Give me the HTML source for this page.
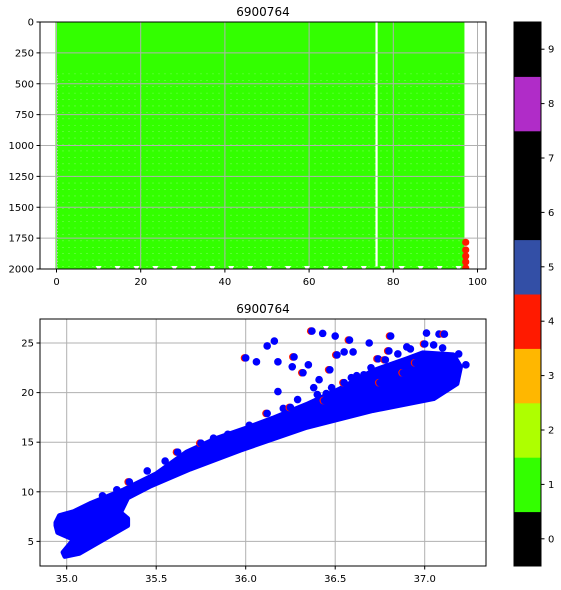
<!DOCTYPE html>
<html><head><meta charset="utf-8"><style>
html,body{margin:0;padding:0;background:#fff;}
svg{display:block;font-family:"DejaVu Sans","Liberation Sans",sans-serif;}
</style></head><body>
<svg id="fig" width="561" height="590" viewBox="0 0 561 590"></svg>
<script>
// ---- Data ----
const topTitle = "6900764";
const botTitle = "6900764";
const topXTicks = [0, 20, 40, 60, 80, 100];
const topYTicks = [0, 250, 500, 750, 1000, 1250, 1500, 1750, 2000];
const greenXStart = 0, greenXEnd = 96.9, greenGapX = 76.0;
const greenYStart = 0, greenYEnd = 2000;
const redDotX = [97.2, 97.2, 97.2, 97.2, 97.2];
const redDotY = [1784, 1846, 1895, 1943, 1992];
const botXTicks = [35.0, 35.5, 36.0, 36.5, 37.0];
const botYTicks = [5, 10, 15, 20, 25];
// main band outline (salinity, temperature)
const bandSal = [34.94,34.96,35.04,35.13,35.32,35.5,35.67,35.84,36.0,36.15,36.34,36.53,36.71,36.9,36.99,37.16,37.2,37.18,37.05,36.71,36.34,35.97,35.69,35.47,35.34,35.3,35.34,35.34,35.07,34.99,34.98,35.04,34.95,34.94];
const bandTemp = [6.9,7.6,8.0,8.8,10.2,11.8,14.0,15.4,16.4,17.4,18.8,20.4,22.2,23.4,24.0,23.8,22.6,20.9,19.4,18.2,16.5,14.2,12.3,10.6,9.4,7.9,7.3,6.6,3.8,3.5,3.9,5.2,5.9,6.6];
// scattered points
const outSal = [36.37,36.43,36.5,36.58,36.16,36.12,36.0,36.06,36.18,36.27,36.26,36.35,36.32,36.18,36.41,36.51,36.6,36.69,36.81,37.01,37.08,37.11,37.23,37.19,36.8,36.29,36.21,36.12,36.02,36.55,36.47,36.59,36.38,36.74,36.9,37.05,36.95,36.66,36.45,
  35.75,35.82,35.9,35.62,35.55,35.45,35.35,35.28,35.2,36.25,36.4,36.48,36.55,36.62,36.7,36.78,36.85,36.92,37.0,37.1,37.15,36.88,36.97,37.03,36.75,36.64,36.56,36.44];
const outTemp = [26.2,25.97,25.7,25.3,25.2,24.7,23.5,23.1,23.1,23.6,22.6,22.8,22.0,20.1,21.3,23.8,24.1,25.0,25.7,26.0,25.9,25.9,22.8,23.9,24.2,19.3,18.4,17.9,16.7,24.1,22.3,21.5,20.5,23.4,24.6,24.8,23.0,21.8,19.9,
  14.9,15.4,15.8,14.0,13.1,12.1,11.0,10.2,9.6,18.5,19.8,20.5,21.0,21.7,22.5,23.3,23.9,24.4,24.9,24.5,23.2,22.0,22.8,23.5,21.0,20.3,19.5,19.2];
const cbLabels = [0,1,2,3,4,5,6,7,8,9];
const cbColors = ["#000000","#33ff00","#aeff00","#ffb700","#ff1a00","#334fa6","#000000","#000000","#b02cc8","#000000"];

// ---- Helpers ----
const NS = "http://www.w3.org/2000/svg";
const svg = document.getElementById("fig");
function mk(tag, attrs, parent){
  const e = document.createElementNS(NS, tag);
  for (const k in attrs) e.setAttribute(k, attrs[k]);
  (parent||svg).appendChild(e);
  return e;
}
const T = {l:40, r:486, t:22, b:269};
const tx = v => 56.5 + v*4.21;
const ty = v => T.t + v*(T.b-T.t)/2000;
const B = {l:40, r:486, t:319, b:566};
const bx = v => 66.7 + (v-35)*179;
const by = v => 343 - (v-25)*9.92;

// ---- Top plot ----
const gTop = mk("g", {});


const clipT = mk("clipPath", {id:"clipT"}, gTop);
mk("rect", {x:T.l, y:T.t, width:T.r-T.l, height:T.b-T.t}, clipT);
const gT = mk("g", {"clip-path":"url(#clipT)"}, gTop);
const gfill = mk("rect", {x:tx(greenXStart)-1, y:ty(greenYStart), width:tx(greenXEnd)-tx(greenXStart)+1, height:ty(greenYEnd)-ty(greenYStart), fill:"#33ff00"}, gT);


for (let v = 420; v < 2000; v += 52) {
  mk("line", {x1:tx(0), x2:tx(greenXEnd), y1:ty(v), y2:ty(v), stroke:"#e8ffe0", "stroke-width":0.6, "stroke-dasharray":"1 5", opacity:0.7}, gT);
}
mk("rect", {x:tx(greenGapX)-1, y:ty(0), width:2.2, height:ty(1980)-ty(0), fill:"#fff"}, gT);
mk("line", {x1:tx(0)+0.5, x2:tx(0)+0.5, y1:ty(430), y2:ty(2000), stroke:"#fff", "stroke-width":1, "stroke-dasharray":"1 2"}, gT);
topXTicks.forEach(v => mk("line", {x1:tx(v), x2:tx(v), y1:T.t, y2:T.b, stroke:"#b0b0b0", "stroke-width":1}, gT));
topYTicks.forEach(v => mk("line", {x1:T.l, x2:T.r, y1:ty(v), y2:ty(v), stroke:"#b0b0b0", "stroke-width":1}, gT));
for (let v = 10; v < 96; v += 4.5) {
  mk("path", {d:`M${tx(v)-3},${T.b-3} L${tx(v)+3},${T.b-3} L${tx(v)},${T.b+2} Z`, fill:"#fff"}, gT);
}
redDotX.forEach((x,i) => {
  const c = mk("circle", {cx:tx(x), cy:ty(redDotY[i]), r:3.6, fill:"#ff1a00"}, gT);
  
  
});
mk("rect", {x:T.l, y:T.t, width:T.r-T.l, height:T.b-T.t, fill:"none", stroke:"#000", "stroke-width":1}, gTop);
topXTicks.forEach(v => {
  mk("line", {x1:tx(v), x2:tx(v), y1:T.b, y2:T.b+3.5, stroke:"#000"}, gTop);
  const t = mk("text", {x:tx(v), y:T.b+16, "font-size":10, "text-anchor":"middle", fill:"#000"}, gTop);
  t.textContent = v;
});
topYTicks.forEach(v => {
  mk("line", {x1:T.l-3.5, x2:T.l, y1:ty(v), y2:ty(v), stroke:"#000"}, gTop);
  const t = mk("text", {x:T.l-6, y:ty(v)+3.5, "font-size":10, "text-anchor":"end", fill:"#000"}, gTop);
  t.textContent = v;
});
const tt = mk("text", {x:(T.l+T.r)/2, y:T.t-6, "font-size":12, "text-anchor":"middle", fill:"#000"}, gTop);


tt.textContent = topTitle;

// ---- Bottom plot ----
const gBot = mk("g", {});


const clipB = mk("clipPath", {id:"clipB"}, gBot);
mk("rect", {x:B.l, y:B.t, width:B.r-B.l, height:B.b-B.t}, clipB);
const gB = mk("g", {"clip-path":"url(#clipB)"}, gBot);
botXTicks.forEach(v => mk("line", {x1:bx(v), x2:bx(v), y1:B.t, y2:B.b, stroke:"#b0b0b0", "stroke-width":1}, gB));
botYTicks.forEach(v => mk("line", {x1:B.l, x2:B.r, y1:by(v), y2:by(v), stroke:"#b0b0b0", "stroke-width":1}, gB));
const pts = bandSal.map((s,i) => `${bx(s).toFixed(1)},${by(bandTemp[i]).toFixed(1)}`).join(" ");
const band = mk("polygon", {points:pts, fill:"#0000ff", stroke:"#0000ff", "stroke-width":5, "stroke-linejoin":"round"}, gB);


outSal.forEach((s,i) => {
  if (i % 3 === 0) mk("circle", {cx:bx(s)-1.2, cy:by(outTemp[i]), r:3.8, fill:"#ff1a00"}, gB);
  const c = mk("circle", {cx:bx(s), cy:by(outTemp[i]), r:3.8, fill:"#0000ff"}, gB);
  
  
});
mk("rect", {x:B.l, y:B.t, width:B.r-B.l, height:B.b-B.t, fill:"none", stroke:"#000", "stroke-width":1}, gBot);
botXTicks.forEach(v => {
  mk("line", {x1:bx(v), x2:bx(v), y1:B.b, y2:B.b+3.5, stroke:"#000"}, gBot);
  const t = mk("text", {x:bx(v), y:B.b+16, "font-size":10, "text-anchor":"middle", fill:"#000"}, gBot);
  t.textContent = v.toFixed(1);
});
botYTicks.forEach(v => {
  mk("line", {x1:B.l-3.5, x2:B.l, y1:by(v), y2:by(v), stroke:"#000"}, gBot);
  const t = mk("text", {x:B.l-6, y:by(v)+3.5, "font-size":10, "text-anchor":"end", fill:"#000"}, gBot);
  t.textContent = v;
});
const bt = mk("text", {x:(B.l+B.r)/2, y:B.t-6, "font-size":12, "text-anchor":"middle", fill:"#000"}, gBot);


bt.textContent = botTitle;

// ---- Colorbar ----
const gCb = mk("g", {});


const cbT = 22, cbB = 566, cbL = 514, cbR = 541;
const h = (cbB-cbT)/cbLabels.length;
cbLabels.forEach((lab,i) => {
  const y0 = cbB - (i+1)*h;
  const r = mk("rect", {x:cbL, y:y0, width:cbR-cbL, height:h+0.5, fill:cbColors[i]}, gCb);
  
  
  const yc = y0 + h/2;
  mk("line", {x1:cbR, x2:cbR+3.5, y1:yc, y2:yc, stroke:"#000"}, gCb);
  const t = mk("text", {x:cbR+7, y:yc+3.5, "font-size":10, fill:"#000"}, gCb);
  t.textContent = lab;
});
mk("rect", {x:cbL, y:cbT, width:cbR-cbL, height:cbB-cbT, fill:"none", stroke:"#000", "stroke-width":1}, gCb);
</script>
</body></html>
